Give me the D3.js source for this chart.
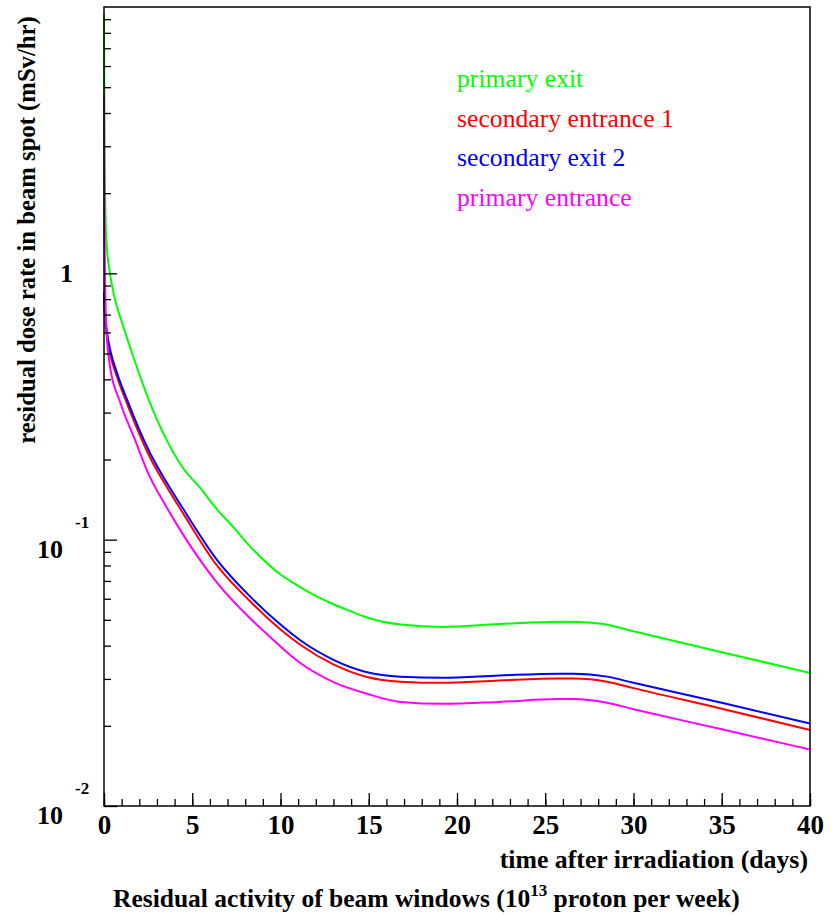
<!DOCTYPE html>
<html>
<head>
<meta charset="utf-8">
<script src="https://cdn.jsdelivr.net/npm/d3@7"></script>
<style>
  body { margin: 0; background: #fff; }
  svg text { font-family: "Liberation Serif", "Times New Roman", serif; }
</style>
</head>
<body>
<script>
const width = 836, height = 916;
const margin = { left: 104, top: 7, right: 26, bottom: 110 };
const serif = "Liberation Serif";

// days after irradiation, dose rate (mSv/hr)
const primaryExit = [
  [0, 9.4], [0.03, 3.0], [0.1, 1.5], [0.17, 1.23], [0.34, 1.0], [0.62, 0.80], [1.0, 0.66],
  [1.6, 0.50], [2.5, 0.34], [3.5, 0.24], [4.5, 0.185], [5.5, 0.155], [6.4, 0.13],
  [7.3, 0.112], [8.3, 0.094], [10, 0.074], [11.1, 0.0665], [12, 0.0615], [13, 0.0572],
  [14, 0.0538], [15, 0.0508], [16.8, 0.048], [19.2, 0.047], [22.4, 0.0482],
  [25.8, 0.0492], [27, 0.0491], [28.3, 0.0482], [30, 0.0453], [35, 0.0378], [40, 0.0316]
];
const secondaryEntrance1 = [
  [0, 0.82], [0.05, 0.69], [0.17, 0.58], [0.34, 0.50], [0.73, 0.41], [1.3, 0.325],
  [2.6, 0.204], [3.5, 0.160], [4.5, 0.125], [6.4, 0.080], [8.3, 0.0585], [10, 0.046],
  [11.1, 0.0404], [13, 0.034], [14.9, 0.0305], [16.8, 0.0293], [19.2, 0.029],
  [22.4, 0.0296], [25.8, 0.0301], [26.6, 0.0301], [28.5, 0.0293], [30, 0.0277],
  [35, 0.0232], [40, 0.0193]
];
const secondaryExit2 = [
  [0, 0.85], [0.05, 0.72], [0.17, 0.60], [0.34, 0.52], [0.73, 0.424], [1.3, 0.336],
  [2.6, 0.212], [3.5, 0.166], [4.5, 0.130], [6.4, 0.084], [8.3, 0.061], [10, 0.048],
  [11.1, 0.042], [13, 0.0354], [14.9, 0.0318], [16.8, 0.0306], [19.2, 0.0303],
  [22.4, 0.0309], [25.8, 0.0314], [26.6, 0.0314], [28.5, 0.0306], [30, 0.029],
  [35, 0.0244], [40, 0.0204]
];
const primaryEntrance = [
  [0, 4.7], [0.03, 1.5], [0.08, 0.8], [0.15, 0.6], [0.34, 0.447], [0.9, 0.33],
  [1.7, 0.242], [2.6, 0.172], [3.5, 0.134], [4.5, 0.104], [6.4, 0.069], [8.3, 0.0505],
  [9.3, 0.0438], [11.1, 0.0345], [13, 0.0292], [14.9, 0.0264], [16.8, 0.0246],
  [19.2, 0.0242], [22.4, 0.0246], [25.8, 0.0252], [26.6, 0.0252], [28.5, 0.0244],
  [30, 0.0231], [35, 0.0194], [40, 0.0163]
];

const seriesNames = ["primary exit", "secondary entrance 1", "secondary exit 2", "primary entrance"];
const seriesColors = ["#00ff00", "#ff0000", "#0000ff", "#ff00ff"];
const seriesData = [primaryExit, secondaryEntrance1, secondaryExit2, primaryEntrance];

const xMajor = [0, 5, 10, 15, 20, 25, 30, 35, 40];
const xMinor = d3.range(0, 41, 1);
const yMajor = [0.01, 0.1, 1];
const yMinor = [2, 3, 4, 5, 6, 7, 8, 9].flatMap(m => [0.01, 0.1, 1].map(d => m * d));

const svg = d3.select("body").append("svg")
  .attr("width", width)
  .attr("height", height)
  .attr("font-family", serif);

const x = d3.scaleLinear().domain([0, 40]).range([margin.left, width - margin.right]);
const y = d3.scaleLog().domain([0.01, 10]).range([height - margin.bottom, margin.top]);

// curves
const line = d3.line()
  .x(d => x(d[0]))
  .y(d => y(d[1]))
  .curve(d3.curveMonotoneX);

seriesData.forEach((data, i) => {
  svg.append("path")
    .datum(data)
    .attr("d", line)
    .attr("fill", "none")
    .attr("stroke", seriesColors[i])
    .attr("stroke-width", 2);
});

// frame
svg.append("rect")
  .attr("x", x(0))
  .attr("y", y(10))
  .attr("width", x(40) - x(0))
  .attr("height", y(0.01) - y(10))
  .attr("fill", "none")
  .attr("stroke", "#000")
  .attr("stroke-width", 1.5);

// x axis ticks (pointing into the plot)
const xAxisMinor = svg.append("g")
  .attr("transform", `translate(0,${y(0.01)})`)
  .call(d3.axisBottom(x).tickValues(xMinor).tickSize(-7).tickFormat(""));
const xAxisMajor = svg.append("g")
  .attr("transform", `translate(0,${y(0.01)})`)
  .call(d3.axisBottom(x).tickValues(xMajor).tickSize(-13).tickPadding(9).tickFormat(d3.format("d")));

[xAxisMinor, xAxisMajor].forEach(g => {
  g.select(".domain").remove();
  g.selectAll(".tick line").attr("stroke", "#000").attr("stroke-width", 1.3);
});
xAxisMajor.selectAll(".tick text")
  .attr("font-family", serif)
  .attr("font-weight", "bold")
  .attr("font-size", 27)
  .attr("fill", "#000");

// y axis ticks
const yAxisMinor = svg.append("g")
  .attr("transform", `translate(${x(0)},0)`)
  .call(d3.axisLeft(y).tickValues(yMinor).tickSize(-7).tickFormat(""));
const yAxisMajor = svg.append("g")
  .attr("transform", `translate(${x(0)},0)`)
  .call(d3.axisLeft(y).tickValues(yMajor).tickSize(-13).tickFormat(""));

[yAxisMinor, yAxisMajor].forEach(g => {
  g.select(".domain").remove();
  g.selectAll(".tick line").attr("stroke", "#000").attr("stroke-width", 1.3);
});

// y tick labels in ROOT style: 1, 10^-1, 10^-2
const yLabels = svg.append("g")
  .attr("font-family", serif)
  .attr("font-weight", "bold")
  .attr("fill", "#000");

yMajor.forEach(v => {
  const exp = Math.round(Math.log10(v));
  if (exp === 0) {
    yLabels.append("text")
      .attr("x", 73)
      .attr("y", y(v) + 9)
      .attr("text-anchor", "end")
      .attr("font-size", 26)
      .text("1");
  } else {
    yLabels.append("text")
      .attr("x", 37)
      .attr("y", y(v) + 18)
      .attr("font-size", 26)
      .text("10");
    yLabels.append("text")
      .attr("x", 75)
      .attr("y", y(v) - 12)
      .attr("font-size", 17)
      .text(String(exp));
  }
});

// axis titles
svg.append("text")
  .attr("x", 808)
  .attr("y", 868)
  .attr("text-anchor", "end")
  .attr("font-family", serif)
  .attr("font-weight", "bold")
  .attr("font-size", 25.8)
  .text("time after irradiation (days)");

svg.append("text")
  .attr("transform", "translate(35,230) rotate(-90)")
  .attr("text-anchor", "middle")
  .attr("font-family", serif)
  .attr("font-weight", "bold")
  .attr("font-size", 24.7)
  .text("residual dose rate in beam spot (mSv/hr)");

const bottomTitle = svg.append("text")
  .attr("x", 113)
  .attr("y", 907)
  .attr("font-family", serif)
  .attr("font-weight", "bold")
  .attr("font-size", 25.5);
bottomTitle.append("tspan").text("Residual activity of beam windows (10");
bottomTitle.append("tspan").attr("dy", -11).attr("font-size", 17).text("13");
bottomTitle.append("tspan").attr("dy", 11).text(" proton per week)");

// legend
const legend = svg.append("g")
  .attr("transform", "translate(457,87)");

seriesNames.forEach((name, i) => {
  legend.append("text")
    .attr("x", 0)
    .attr("y", i * 39.5)
    .attr("font-family", serif)
    .attr("font-size", 25.7)
    .attr("fill", seriesColors[i])
    .text(name);
});
</script>
</body>
</html>
